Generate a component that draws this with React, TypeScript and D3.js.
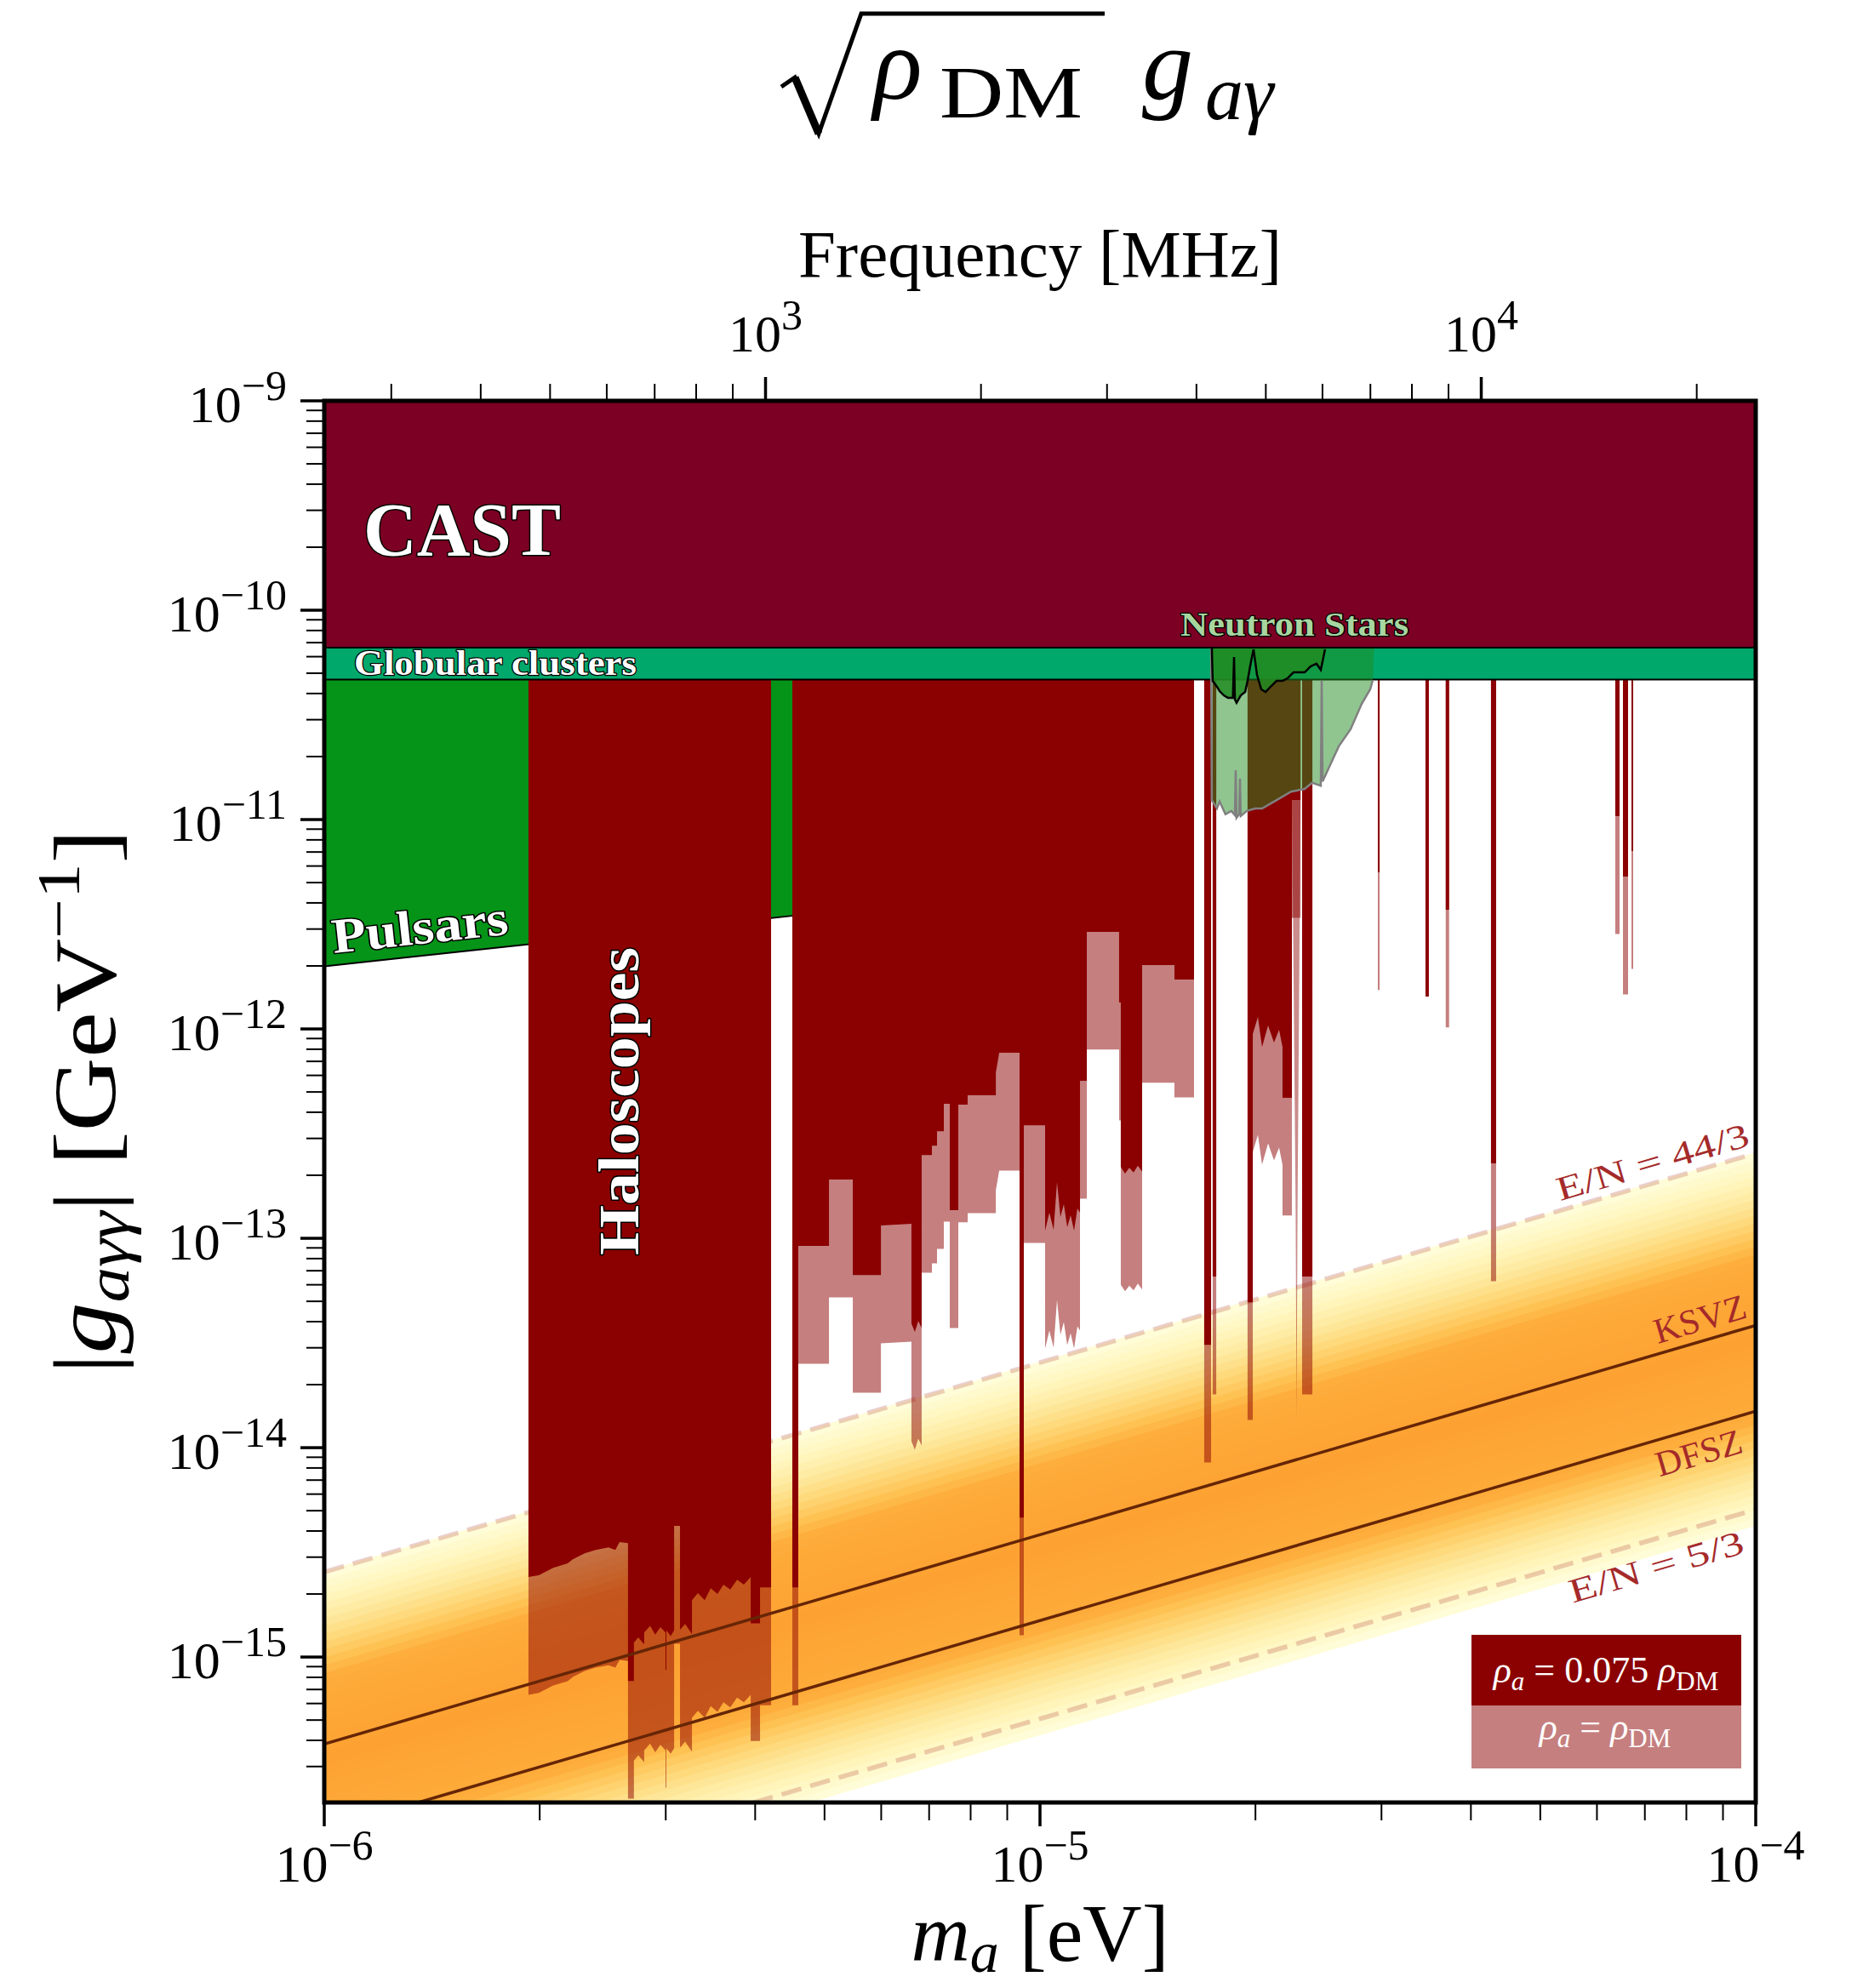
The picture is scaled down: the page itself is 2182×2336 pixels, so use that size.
import React from "react";
import * as d3 from "d3";

const WIDTH = 2182;
const HEIGHT = 2336;
const PLOT = { left: 381, right: 2063, top: 471, bottom: 2118 };
const FONT = "'Liberation Serif', 'DejaVu Serif', serif";

// ---------- axes ----------
const massRange = [1e-6, 1e-4];
const couplingRange = [2.02e-16, 1e-9];
const massTickExponents = [-6, -5, -4];
const couplingTickExponents = [-9, -10, -11, -12, -13, -14, -15];
const freqTickExponents = [3, 4]; // MHz
const freqMinorTicks = [300, 400, 500, 600, 700, 800, 900, 2000, 3000, 4000, 5000, 6000, 7000, 8000, 9000, 20000];
const MHZ_PER_EV = 2.418e8;

// ---------- constraints ----------
const castLowerEdge = 6.62e-11;
const globularLowerEdge = 4.66e-11;
const pulsarEdge = [
  [1e-6, 1.99e-12],
  [4.508e-6, 3.47e-12],
];

// haloscope limits for rho_a = 0.075 rho_DM (lower boundary, region extends upward)
const haloscopeBlocks = [
  [
    [1.929e-6, 2.41e-15], [1.994e-6, 2.46e-15], [2.089e-6, 2.67e-15], [2.188e-6, 2.8e-15],
    [2.225e-6, 2.93e-15], [2.311e-6, 3.13e-15], [2.394e-6, 3.25e-15], [2.495e-6, 3.34e-15],
    [2.551e-6, 3.25e-15], [2.586e-6, 3.54e-15], [2.657e-6, 3.5e-15], [2.657e-6, 7.69e-16],
    [2.708e-6, 7.69e-16], [2.708e-6, 1.17e-15], [2.746e-6, 1.24e-15], [2.799e-6, 1.15e-15],
    [2.799e-6, 1.31e-15], [2.853e-6, 1.41e-15], [2.9e-6, 1.28e-15], [2.949e-6, 1.39e-15],
    [2.998e-6, 1.31e-15], [2.998e-6, 8.69e-16], [3.006e-6, 8.69e-16], [3.006e-6, 1.34e-15],
    [3.048e-6, 1.26e-15], [3.082e-6, 1.34e-15], [3.082e-6, 4.23e-15], [3.141e-6, 4.23e-15],
    [3.141e-6, 1.35e-15], [3.193e-6, 1.44e-15], [3.264e-6, 1.29e-15], [3.264e-6, 1.87e-15],
    [3.327e-6, 2.02e-15], [3.401e-6, 1.87e-15], [3.467e-6, 2.13e-15], [3.543e-6, 2.0e-15],
    [3.612e-6, 2.22e-15], [3.692e-6, 2.1e-15], [3.774e-6, 2.34e-15], [3.857e-6, 2.22e-15],
    [3.943e-6, 2.41e-15], [3.943e-6, 1.45e-15], [4.063e-6, 1.45e-15], [4.063e-6, 2.15e-15],
    [4.21e-6, 2.15e-15],
  ],
  [
    [4.508e-6, 2.15e-15], [4.595e-6, 2.15e-15], [4.595e-6, 9.19e-14], [5.072e-6, 9.19e-14],
    [5.072e-6, 1.908e-13], [5.476e-6, 1.908e-13], [5.476e-6, 6.68e-14], [5.995e-6, 6.68e-14],
    [5.995e-6, 1.151e-13], [6.613e-6, 1.173e-13], [6.613e-6, 3.92e-14], [6.686e-6, 3.57e-14],
    [6.76e-6, 4.03e-14], [6.834e-6, 3.74e-14], [6.834e-6, 2.5e-13], [7.063e-6, 2.5e-13],
    [7.063e-6, 2.77e-13], [7.18e-6, 2.77e-13], [7.18e-6, 3.25e-13], [7.339e-6, 3.25e-13],
    [7.339e-6, 4.39e-13], [7.481e-6, 4.39e-13], [7.481e-6, 1.362e-13], [7.689e-6, 1.362e-13],
    [7.689e-6, 4.35e-13], [7.924e-6, 4.35e-13], [7.924e-6, 4.82e-13], [8.676e-6, 4.82e-13],
    [8.676e-6, 6.2e-13], [8.771e-6, 7.69e-13], [9.364e-6, 7.69e-13], [9.364e-6, 4.64e-15],
    [9.493e-6, 4.64e-15], [9.493e-6, 3.47e-13], [1.0166e-5, 3.47e-13], [1.0166e-5, 1.088e-13],
    [1.0306e-5, 1.324e-13], [1.0448e-5, 1.098e-13], [1.0563e-5, 1.855e-13], [1.068e-5, 1.263e-13],
    [1.0797e-5, 1.454e-13], [1.0916e-5, 1.129e-13], [1.1036e-5, 1.288e-13], [1.1158e-5, 1.088e-13],
    [1.128e-5, 1.388e-13], [1.1374e-5, 1.324e-13], [1.1374e-5, 5.65e-13], [1.1626e-5, 5.65e-13],
    [1.1626e-5, 2.91e-12], [1.2898e-5, 2.91e-12], [1.2898e-5, 1.336e-12], [1.2969e-5, 1.336e-12],
    [1.2969e-5, 2.19e-13], [1.3148e-5, 2.04e-13], [1.3329e-5, 2.17e-13], [1.3513e-5, 2.06e-13],
    [1.3699e-5, 2.22e-13], [1.389e-5, 2.08e-13], [1.389e-5, 2.02e-12], [1.5412e-5, 2.02e-12],
    [1.5412e-5, 1.72e-12], [1.6414e-5, 1.72e-12],
  ],
  [[1.696e-5, 3.1e-14], [1.734e-5, 3.1e-14]],
  [[1.743e-5, 6.56e-14], [1.763e-5, 6.56e-14]],
  [
    [1.95e-5, 4.95e-14], [1.983e-5, 4.95e-14], [1.983e-5, 9.45e-13], [2.016e-5, 1.14e-12],
    [2.043e-5, 8.21e-13], [2.083e-5, 1.038e-12], [2.123e-5, 8.61e-13], [2.158e-5, 9.91e-13],
    [2.182e-5, 8.21e-13], [2.182e-5, 4.69e-13], [2.249e-5, 4.69e-13], [2.249e-5, 1.24e-11],
    [2.312e-5, 1.24e-11],
  ],
  [[2.324e-5, 6.56e-14], [2.402e-5, 6.56e-14]],
  [[2.965e-5, 5.6e-12], [2.982e-5, 5.6e-12]],
  [[3.689e-5, 3.71e-12], [3.729e-5, 3.71e-12]],
  [[4.267e-5, 2.28e-13], [4.338e-5, 2.28e-13]],
  [[6.365e-5, 1.038e-11], [6.453e-5, 1.038e-11]],
  [[6.524e-5, 5.34e-12], [6.632e-5, 5.34e-12]],
  [[6.705e-5, 7.07e-12], [6.742e-5, 7.07e-12]],
];
const haloscopeDarkOnly = [[[3.456e-5, 1.427e-12], [3.494e-5, 1.427e-12]]];
// narrow rho_a = rho_DM wedge below the 2.25e-5 eV gap (outline)
const haloscopeLightWedge = [
  [2.249e-5, 1.24e-11], [2.312e-5, 1.24e-11], [2.302e-5, 1.5e-12], [2.29e-5, 1.4e-13],
  [2.283e-5, 1.36e-14], [2.276e-5, 1.4e-13], [2.262e-5, 1.5e-12],
];
const densityRescale = Math.sqrt(0.075); // rho_a = rho_DM version

const neutronStarsWide = [
  [1.734e-5, 6.62e-11], [1.738e-5, 1.24e-11], [1.767e-5, 1.13e-11], [1.782e-5, 1.22e-11],
  [1.816e-5, 1.06e-11], [1.851e-5, 1.1e-11], [1.872e-5, 1.05e-11], [1.877e-5, 1.72e-11],
  [1.882e-5, 1.02e-11], [1.898e-5, 1.06e-11], [1.903e-5, 1.57e-11], [1.908e-5, 1.04e-11],
  [1.945e-5, 1.1e-11], [1.999e-5, 1.13e-11], [2.043e-5, 1.13e-11], [2.141e-5, 1.24e-11],
  [2.243e-5, 1.36e-11], [2.343e-5, 1.4e-11], [2.401e-5, 1.5e-11], [2.468e-5, 1.45e-11],
  [2.475e-5, 4.6e-11], [2.482e-5, 1.52e-11], [2.572e-5, 1.98e-11], [2.615e-5, 2.24e-11],
  [2.716e-5, 2.7e-11], [2.815e-5, 3.57e-11], [2.893e-5, 4.19e-11], [2.917e-5, 4.64e-11],
  [2.93e-5, 6.62e-11],
];
const neutronStarsNarrow = [
  [1.738e-5, 6.62e-11], [1.743e-5, 4.6e-11], [1.767e-5, 4.31e-11], [1.782e-5, 4.11e-11],
  [1.806e-5, 3.92e-11], [1.831e-5, 3.81e-11], [1.86e-5, 3.81e-11], [1.867e-5, 5.98e-11],
  [1.872e-5, 3.75e-11], [1.882e-5, 3.61e-11], [1.908e-5, 3.92e-11], [1.935e-5, 4.07e-11],
  [1.95e-5, 4.6e-11], [1.972e-5, 5.7e-11], [1.988e-5, 6.5e-11], [2.01e-5, 4.91e-11],
  [2.038e-5, 4.19e-11], [2.066e-5, 4.07e-11], [2.1e-5, 4.31e-11], [2.141e-5, 4.6e-11],
  [2.183e-5, 4.6e-11], [2.218e-5, 4.73e-11], [2.261e-5, 5.05e-11], [2.343e-5, 5.05e-11],
  [2.388e-5, 5.39e-11], [2.434e-5, 5.55e-11], [2.468e-5, 5.19e-11], [2.502e-5, 6.5e-11],
  [2.509e-5, 6.62e-11],
];

// ---------- QCD axion models ----------
const C_AG = 2e-10; // GeV^-1 per eV
const ANOMALY_SHIFT = 1.92;
const modelNames = ["E/N = 44/3", "KSVZ", "DFSZ", "E/N = 5/3"];
const modelEN = [44 / 3, 0, 8 / 3, 5 / 3];
const modelDashed = [true, false, false, true];
const modelLabelMass = [5.33e-5, 7.3e-5, 7.34e-5, 5.55e-5];
const modelLabelOffset = [-11, -12, 44, 47];
const modelLabelLength = [234, 111, 104, 212];
const qcdCenter = 3.3e-10;
const qcdHalfWidth = 0.89;
const qcdPlateau = 0.38;

const DARKRED = "#8b0000";

function outlineStyle(w = 3) {
  return { stroke: "#000", strokeWidth: w, paintOrder: "stroke", strokeLinejoin: "round" } as any;
}

export default function App() {
  const x = d3.scaleLog().domain(massRange).range([PLOT.left, PLOT.right]);
  const y = d3.scaleLog().domain(couplingRange).range([PLOT.bottom, PLOT.top]);
  const yTop = PLOT.top - 20;

  const modelG = (en: number, m: number) => C_AG * Math.abs(en - ANOMALY_SHIFT) * m;
  const linePath = (en: number) =>
    d3.line<number>().x((m) => x(m)).y((m) => y(modelG(en, m)))(massRange) as string;

  const blockPath = (blocks: number[][][], factor: number) => {
    const p = d3.path();
    blocks.forEach((pts) => {
      p.moveTo(x(pts[0][0]), yTop);
      pts.forEach(([m, g]) => p.lineTo(x(m), y(g * factor)));
      p.lineTo(x(pts[pts.length - 1][0]), yTop);
      p.closePath();
    });
    return p.toString();
  };

  const polyPath = (pts: number[][], close: boolean) => {
    const s = pts.map(([m, g], i) => `${i ? "L" : "M"}${x(m)},${y(g)}`).join("");
    return close ? s + "Z" : s;
  };

  // QCD band
  const nBands = 48;
  const step = (2 * qcdHalfWidth) / nBands;
  const qcdColor = (d: number) => {
    if (d <= qcdPlateau) return d3.interpolateYlOrBr(0.475 - 0.03 * (d / qcdPlateau));
    const t = (d - qcdPlateau) / (qcdHalfWidth - qcdPlateau);
    return d3.interpolateYlOrBr(0.445 - 0.42 * t);
  };
  const bands = d3.range(nBands).map((i) => {
    const a = -qcdHalfWidth + i * step;
    const b = a + step;
    const [m0, m1] = massRange;
    const pts = [
      [m0, qcdCenter * m0 * 10 ** a],
      [m1, qcdCenter * m1 * 10 ** a],
      [m1, qcdCenter * m1 * 10 ** b],
      [m0, qcdCenter * m0 * 10 ** b],
    ];
    return { d: polyPath(pts, true), color: qcdColor(Math.abs((a + b) / 2)) };
  });

  const pulsarPoly = [
    [pulsarEdge[0][0], 1e-9],
    ...pulsarEdge,
    [pulsarEdge[pulsarEdge.length - 1][0], 1e-9],
  ];

  const angleDeg = (en: number) => {
    const a = massRange[0], b = massRange[1];
    return (Math.atan2(y(modelG(en, b)) - y(modelG(en, a)), x(b) - x(a)) * 180) / Math.PI;
  };

  // ticks
  const yMinor: number[] = [];
  for (let e = -16; e <= -10; e++) for (let k = 2; k <= 9; k++) {
    const v = k * 10 ** e;
    if (v > couplingRange[0] && v < couplingRange[1]) yMinor.push(v);
  }
  const xMinor: number[] = [];
  for (let e = -6; e <= -5; e++) for (let k = 2; k <= 9; k++) xMinor.push(k * 10 ** e);

  const supText = (exp: number) => (exp < 0 ? "\u2212" + Math.abs(exp) : String(exp));

  return (
    <svg width={WIDTH} height={HEIGHT} viewBox={`0 0 ${WIDTH} ${HEIGHT}`} style={{ display: "block", background: "#fff", position: "absolute", left: 0, top: 0 }} fontFamily={FONT}>
      <defs>
        <clipPath id="plotClip">
          <rect x={PLOT.left} y={PLOT.top} width={PLOT.right - PLOT.left} height={PLOT.bottom - PLOT.top} />
        </clipPath>
      </defs>
      <rect x={0} y={0} width={WIDTH} height={HEIGHT} fill="#fff" />

      <g clipPath="url(#plotClip)">
        {bands.map((b, i) => (
          <path key={i} d={b.d} fill={b.color} stroke={b.color} strokeWidth={1} />
        ))}
        {modelEN.map((en, i) =>
          modelDashed[i] ? (
            <path key={i} d={linePath(en)} fill="none" stroke="#a52a2a" strokeOpacity={0.22} strokeWidth={5.5} strokeDasharray="24 11" />
          ) : null
        )}

        {/* pulsars */}
        <path d={polyPath(pulsarPoly, true)} fill="#059418" />
        <path d={polyPath(pulsarEdge, false)} fill="none" stroke="#000" strokeWidth={2} />

        {/* haloscopes */}
        <path d={blockPath(haloscopeBlocks, densityRescale)} fill={DARKRED} fillOpacity={0.5} />
        <path d={polyPath(haloscopeLightWedge, true)} fill={DARKRED} fillOpacity={0.45} />
        <path d={blockPath(haloscopeBlocks, 1)} fill={DARKRED} />
        <path d={blockPath(haloscopeDarkOnly, 1)} fill={DARKRED} />

        {/* globular clusters */}
        <rect x={PLOT.left} y={y(castLowerEdge)} width={PLOT.right - PLOT.left} height={y(globularLowerEdge) - y(castLowerEdge)} fill="#00a86b" />
        <line x1={PLOT.left} x2={PLOT.right} y1={y(globularLowerEdge)} y2={y(globularLowerEdge)} stroke="#000" strokeWidth={2} />

        {/* neutron stars */}
        <path d={polyPath(neutronStarsWide, true)} fill="rgb(34,139,34)" fillOpacity={0.5} />
        <path d={polyPath(neutronStarsWide.slice(0, -1), false)} fill="none" stroke="#808080" strokeWidth={2.5} />
        <path d={polyPath(neutronStarsNarrow, true)} fill="rgb(34,139,34)" fillOpacity={0.85} />
        <path d={polyPath(neutronStarsNarrow.slice(0, -1), false)} fill="none" stroke="#000" strokeWidth={2.5} />

        {/* CAST */}
        <rect x={PLOT.left} y={PLOT.top - 5} width={PLOT.right - PLOT.left} height={y(castLowerEdge) - PLOT.top + 5} fill="#7b0023" />
        <line x1={PLOT.left} x2={PLOT.right} y1={y(castLowerEdge)} y2={y(castLowerEdge)} stroke="#000" strokeWidth={2} />

        {/* KSVZ / DFSZ */}
        {modelEN.map((en, i) =>
          !modelDashed[i] ? <path key={i} d={linePath(en)} fill="none" stroke="#662506" strokeWidth={3.5} /> : null
        )}

        {/* model labels */}
        {modelNames.map((name, i) => {
          const m = modelLabelMass[i];
          const px = x(m);
          const py = y(modelG(modelEN[i], m)) + modelLabelOffset[i];
          return (
            <text key={name} transform={`translate(${px},${py}) rotate(${angleDeg(modelEN[i])})`} fill="#a52a2a" fontSize={i === 0 || i === 3 ? 40 : 42} textLength={modelLabelLength[i]} lengthAdjust="spacingAndGlyphs">
              {name}
            </text>
          );
        })}

        {/* legend */}
        <rect x={1729} y={1921} width={317} height={83} fill={DARKRED} />
        <rect x={1729} y={2004} width={317} height={74} fill={DARKRED} fillOpacity={0.5} />
        <text x={1887} y={1977} textAnchor="middle" fill="#fff" fontSize={44}>
          <tspan fontStyle="italic">ρ</tspan>
          <tspan fontStyle="italic" fontSize={31} dy={9}>a</tspan>
          <tspan dy={-9}> = 0.075 </tspan>
          <tspan fontStyle="italic">ρ</tspan>
          <tspan fontSize={31} dy={9}>DM</tspan>
        </text>
        <text x={1886} y={2044} textAnchor="middle" fill="#fff" fontSize={44}>
          <tspan fontStyle="italic">ρ</tspan>
          <tspan fontStyle="italic" fontSize={31} dy={9}>a</tspan>
          <tspan dy={-9}> = </tspan>
          <tspan fontStyle="italic">ρ</tspan>
          <tspan fontSize={31} dy={9}>DM</tspan>
        </text>

        {/* region labels */}
        <text x={427} y={652} fontSize={88} fontWeight="bold" fill="#fff" textLength={232} lengthAdjust="spacingAndGlyphs" style={outlineStyle(3)}>CAST</text>
        <text x={416} y={793} fontSize={42} fontWeight="bold" fill="#fff" textLength={332} lengthAdjust="spacingAndGlyphs" style={outlineStyle(2.5)}>Globular clusters</text>
        <text transform="translate(392,1120) rotate(-6.2)" fontSize={58} fontWeight="bold" fill="#fff" textLength={208} lengthAdjust="spacingAndGlyphs" style={outlineStyle(3)}>Pulsars</text>
        <text transform="translate(750,1475) rotate(-90)" fontSize={68} fontWeight="bold" fill="#fff" textLength={362} lengthAdjust="spacingAndGlyphs" style={outlineStyle(3)}>Haloscopes</text>
        <text x={1387} y={747} fontSize={40} fontWeight="bold" fill="#a8d6a0" textLength={268} lengthAdjust="spacingAndGlyphs" style={outlineStyle(2.5)}>Neutron Stars</text>
      </g>

      {/* frame */}
      <rect x={PLOT.left} y={PLOT.top} width={PLOT.right - PLOT.left} height={PLOT.bottom - PLOT.top} fill="none" stroke="#000" strokeWidth={5} />

      {/* left ticks */}
      {couplingTickExponents.map((e) => (
        <g key={e}>
          <line x1={PLOT.left - 28} x2={PLOT.left} y1={y(10 ** e)} y2={y(10 ** e)} stroke="#000" strokeWidth={3.5} />
          <text x={337} y={y(10 ** e) + 25} textAnchor="end" fontSize={62}>
            10<tspan fontSize={50} dy={-26}>{supText(e)}</tspan>
          </text>
        </g>
      ))}
      {yMinor.map((v, i) => (
        <line key={i} x1={PLOT.left - 21} x2={PLOT.left} y1={y(v)} y2={y(v)} stroke="#000" strokeWidth={2} />
      ))}

      {/* bottom ticks */}
      {massTickExponents.map((e) => (
        <g key={e}>
          <line x1={x(10 ** e)} x2={x(10 ** e)} y1={PLOT.bottom} y2={PLOT.bottom + 28} stroke="#000" strokeWidth={3.5} />
          <text x={x(10 ** e)} y={2211} textAnchor="middle" fontSize={62}>
            10<tspan fontSize={50} dy={-26}>{supText(e)}</tspan>
          </text>
        </g>
      ))}
      {xMinor.map((v, i) => (
        <line key={i} x1={x(v)} x2={x(v)} y1={PLOT.bottom} y2={PLOT.bottom + 21} stroke="#000" strokeWidth={2} />
      ))}

      {/* top frequency ticks */}
      {freqTickExponents.map((e) => {
        const px = x(10 ** e / MHZ_PER_EV);
        return (
          <g key={e}>
            <line x1={px} x2={px} y1={PLOT.top} y2={PLOT.top - 28} stroke="#000" strokeWidth={3.5} />
            <text x={px} y={413} textAnchor="middle" fontSize={62}>
              10<tspan fontSize={50} dy={-26}>{supText(e)}</tspan>
            </text>
          </g>
        );
      })}
      {freqMinorTicks.map((f, i) => {
        const px = x(f / MHZ_PER_EV);
        return px <= PLOT.right ? <line key={i} x1={px} x2={px} y1={PLOT.top} y2={PLOT.top - 20} stroke="#000" strokeWidth={2} /> : null;
      })}

      {/* axis titles */}
      <text x={(PLOT.left + PLOT.right) / 2} y={325} textAnchor="middle" fontSize={79}>Frequency [MHz]</text>
      <text x={(PLOT.left + PLOT.right) / 2} y={2304} textAnchor="middle" fontSize={96}>
        <tspan fontStyle="italic">m</tspan>
        <tspan fontStyle="italic" fontSize={68} dy={13}>a</tspan>
        <tspan dy={-13}> [eV]</tspan>
      </text>
      <text transform={`translate(135,${(PLOT.top + PLOT.bottom) / 2}) rotate(-90)`} textAnchor="middle" fontSize={104} textLength={640} lengthAdjust="spacingAndGlyphs">
        <tspan>|</tspan>
        <tspan fontStyle="italic">g</tspan>
        <tspan fontStyle="italic" fontSize={72} dy={16}>aγγ</tspan>
        <tspan dy={-16}>| [GeV</tspan>
        <tspan fontSize={72} dy={-42}>{"\u22121"}</tspan>
        <tspan dy={42}>]</tspan>
      </text>

      {/* title */}
      <path d="M918,102 L934,91 L962,157 L1012,16 L1298,16" fill="none" stroke="#000" strokeWidth={5} strokeLinejoin="miter" />
      <path d="M934,91 L962,157" fill="none" stroke="#000" strokeWidth={9} />
      <text fontSize={120}>
        <tspan x={1026} y={116} fontStyle="italic">ρ</tspan>
        <tspan x={1104} y={138} fontSize={86} textLength={168} lengthAdjust="spacingAndGlyphs">DM</tspan>
        <tspan x={1342} y={116} fontStyle="italic">g</tspan>
        <tspan x={1416} y={140} fontSize={90} fontStyle="italic">aγ</tspan>
      </text>
    </svg>
  );
}
